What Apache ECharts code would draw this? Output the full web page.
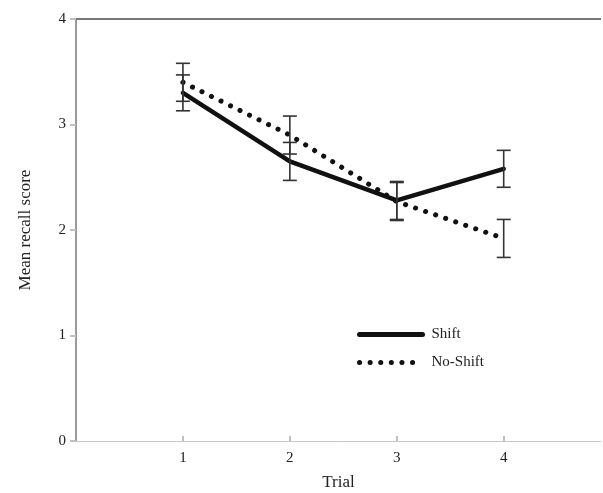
<!DOCTYPE html>
<html>
<head>
<meta charset="utf-8">
<script src="https://cdn.jsdelivr.net/npm/echarts@6/dist/echarts.min.js"></script>
<style>
  html, body { margin: 0; padding: 0; background: #fff; }
  #chart { width: 603px; height: 493px; }
</style>
</head>
<body>
<div id="chart"></div>
<script>
// data
var trials = [1, 2, 3, 4];
var shiftMean = [3.30, 2.65, 2.28, 2.58];
var shiftErr = [0.17, 0.18, 0.18, 0.175];
var noShiftMean = [3.40, 2.90, 2.27, 1.92];
var noShiftErr = [0.18, 0.18, 0.18, 0.18];

var font = "Liberation Serif";

function pairs(xs, ys) {
  return xs.map(function (x, i) { return [x, ys[i]]; });
}
function errData(xs, ys, es) {
  return xs.map(function (x, i) { return [x, ys[i] - es[i], ys[i] + es[i]]; });
}

// error bars with caps
function renderErr(params, api) {
  var x = api.value(0);
  var lo = api.coord([x, api.value(1)]);
  var hi = api.coord([x, api.value(2)]);
  var hw = 7;
  var style = { stroke: "#333", lineWidth: 1.6 };
  return {
    type: "group",
    children: [
      { type: "line", shape: { x1: lo[0], y1: lo[1], x2: hi[0], y2: hi[1] }, style: style },
      { type: "line", shape: { x1: lo[0] - hw, y1: lo[1], x2: lo[0] + hw, y2: lo[1] }, style: style },
      { type: "line", shape: { x1: hi[0] - hw, y1: hi[1], x2: hi[0] + hw, y2: hi[1] }, style: style }
    ]
  };
}

var chart = echarts.init(document.getElementById("chart"));
var option = {
  animation: false,
  textStyle: { fontFamily: font },
  grid: { left: 76, right: 2, top: 19, bottom: 52, outerBoundsMode: "none" },
  legend: {
    data: ["Shift", "No-Shift"],
    orient: "vertical",
    left: 352,
    top: 322,
    itemWidth: 63,
    itemHeight: 14,
    itemGap: 13,
    itemStyle: { opacity: 0, borderWidth: 0 },
    lineStyle: { width: 5 },
    textStyle: { fontFamily: font, fontSize: 15, color: "#222", padding: [0, 0, 0, 4] }
  },
  xAxis: {
    type: "value",
    min: 0,
    max: 4.91,
    interval: 1,
    name: "Trial",
    nameLocation: "middle",
    nameGap: 33,
    nameTextStyle: { fontFamily: font, fontSize: 17, color: "#222" },
    splitLine: { show: false },
    axisLine: { lineStyle: { color: "#c8c8c8", width: 1 } },
    axisTick: { inside: true, length: 5, customValues: trials, lineStyle: { color: "#c0c0c0", width: 2 } },
    axisLabel: {
      fontFamily: font, fontSize: 15, color: "#222", margin: 10,
      customValues: trials
    }
  },
  yAxis: {
    type: "value",
    min: 0,
    max: 4,
    interval: 1,
    name: "Mean recall score",
    nameLocation: "middle",
    nameGap: 42,
    nameTextStyle: { fontFamily: font, fontSize: 17, color: "#222" },
    splitLine: { show: false },
    axisLine: { show: true, lineStyle: { color: "#9a9a9a", width: 2 } },
    axisTick: { show: true, length: 6, lineStyle: { color: "#c0c0c0", width: 2 } },
    axisLabel: { fontFamily: font, fontSize: 15, color: "#222", margin: 10 }
  },
  series: [
    {
      name: "Shift",
      type: "line",
      data: pairs(trials, shiftMean),
      symbol: "none",
      lineStyle: { color: "#111", width: 4.5, cap: "round", join: "round" },
      itemStyle: { color: "#111" },
      z: 3
    },
    {
      name: "No-Shift",
      type: "line",
      data: pairs(trials, noShiftMean),
      symbol: "none",
      lineStyle: { color: "#111", width: 5, type: [0.1, 10.5], cap: "round" },
      itemStyle: { color: "#111" },
      z: 3
    },
    {
      type: "custom",
      renderItem: renderErr,
      data: errData(trials, shiftMean, shiftErr),
      z: 4
    },
    {
      type: "custom",
      renderItem: renderErr,
      data: errData(trials, noShiftMean, noShiftErr),
      z: 4
    }
  ]
};
chart.setOption(option);

// top frame line of the plot area
var rect = chart.getModel().getComponent("grid").coordinateSystem.getRect();
chart.setOption({
  graphic: [{
    type: "line",
    shape: { x1: rect.x, y1: rect.y, x2: rect.x + rect.width, y2: rect.y },
    style: { stroke: "#777", lineWidth: 2 },
    z: 5
  }]
});
</script>
</body>
</html>
